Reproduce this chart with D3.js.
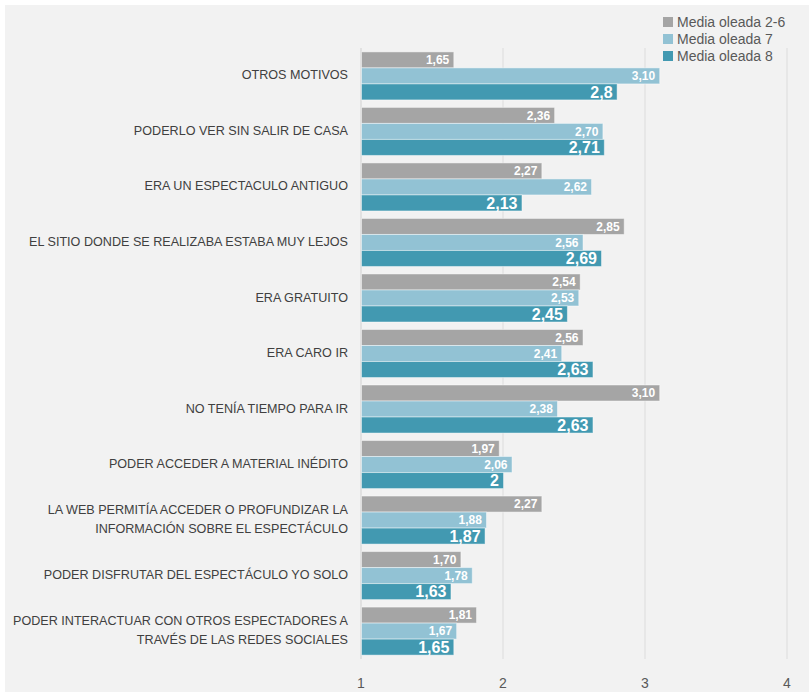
<!DOCTYPE html>
<html>
<head>
<meta charset="utf-8">
<script src="https://cdn.jsdelivr.net/npm/d3@7"></script>
<style>
  body { margin: 0; background: #fff; }
  svg { display: block; }
</style>
</head>
<body>
<svg id="chart"></svg>
<script>
// data
var categories = [
  ["OTROS MOTIVOS"],
  ["PODERLO VER SIN SALIR DE CASA"],
  ["ERA UN ESPECTACULO ANTIGUO"],
  ["EL SITIO DONDE SE REALIZABA ESTABA MUY LEJOS"],
  ["ERA GRATUITO"],
  ["ERA CARO IR"],
  ["NO TENÍA TIEMPO PARA IR"],
  ["PODER ACCEDER A MATERIAL INÉDITO"],
  ["LA WEB PERMITÍA ACCEDER O PROFUNDIZAR LA", "INFORMACIÓN SOBRE EL ESPECTÁCULO"],
  ["PODER DISFRUTAR DEL ESPECTÁCULO YO SOLO"],
  ["PODER INTERACTUAR CON OTROS ESPECTADORES A", "TRAVÉS DE LAS REDES SOCIALES"]
];
var seriesNames = ["Media oleada 2-6", "Media oleada 7", "Media oleada 8"];
var oleada26 = [1.65, 2.36, 2.27, 2.85, 2.54, 2.56, 3.10, 1.97, 2.27, 1.70, 1.81];
var oleada7  = [3.10, 2.70, 2.62, 2.56, 2.53, 2.41, 2.38, 2.06, 1.88, 1.78, 1.67];
var oleada8  = [2.8, 2.71, 2.13, 2.69, 2.45, 2.63, 2.63, 2, 1.87, 1.63, 1.65];
var xTicks = [1, 2, 3, 4];

var colors = ["#a5a5a5", "#92c2d4", "#4299b1"];
var series = [oleada26, oleada7, oleada8];

var W = 809, H = 692;
var svg = d3.select("#chart").attr("width", W).attr("height", H);

svg.append("rect")
  .attr("x", 5).attr("y", 5)
  .attr("width", W - 5).attr("height", H - 5)
  .attr("fill", "#f2f2f2");

var x = d3.scaleLinear().domain([1, 4]).range([361, 787]);
var y = d3.scaleBand()
  .domain(categories.map(function(d, i) { return i; }))
  .range([48, 659])
  .paddingInner(0.135)
  .paddingOuter(0.07);
var ySub = d3.scaleBand().domain([0, 1, 2]).range([0, y.bandwidth()]);

// gridlines
svg.append("g").selectAll("line")
  .data(xTicks)
  .enter().append("line")
  .attr("x1", function(d) { return x(d); })
  .attr("x2", function(d) { return x(d); })
  .attr("y1", 48).attr("y2", 659)
  .attr("stroke", function(d) { return d === 1 ? "#d0d0d0" : "#dcdcdc"; })
  .attr("stroke-width", 1);

// tick labels
svg.append("g").selectAll("text")
  .data(xTicks)
  .enter().append("text")
  .attr("x", function(d) { return x(d); })
  .attr("y", 688)
  .attr("text-anchor", "middle")
  .attr("font-family", "Liberation Sans, Arial, sans-serif")
  .attr("font-size", 14)
  .attr("fill", "#595959")
  .text(function(d) { return d; });

var fmt2 = function(v) { return v.toFixed(2).replace(".", ","); };
var fmtRaw = function(v) { return String(v).replace(".", ","); };

series.forEach(function(vals, s) {
  var g = svg.append("g");
  g.selectAll("rect")
    .data(vals)
    .enter().append("rect")
    .attr("x", x(1) + 0.5)
    .attr("y", function(d, i) { return y(i) + ySub(s); })
    .attr("width", function(d) { return x(d) - x(1); })
    .attr("height", ySub.bandwidth())
    .attr("fill", colors[s])
    .attr("stroke", "#ffffff")
    .attr("stroke-opacity", 0.45)
    .attr("stroke-width", 1);

  g.selectAll("text")
    .data(vals)
    .enter().append("text")
    .attr("x", function(d) { return x(d) - 4; })
    .attr("y", function(d, i) { return y(i) + ySub(s) + ySub.bandwidth() / 2; })
    .attr("dy", "0.36em")
    .attr("text-anchor", "end")
    .attr("font-family", "Liberation Sans, Arial, sans-serif")
    .attr("font-weight", "bold")
    .attr("font-size", s === 2 ? 16 : 12)
    .attr("fill", "#ffffff")
    .text(function(d) { return s === 2 ? fmtRaw(d) : fmt2(d); });
});

// category labels
var labels = svg.append("g").selectAll("text")
  .data(categories)
  .enter().append("text")
  .attr("text-anchor", "end")
  .attr("font-family", "Liberation Sans, Arial, sans-serif")
  .attr("font-size", 12.6)
  .attr("fill", "#404040")
  .attr("transform", function(d, i) {
    return "translate(348," + (y(i) + y.bandwidth() / 2 - 1) + ")";
  });

labels.each(function(lines) {
  var t = d3.select(this);
  lines.forEach(function(line, k) {
    t.append("tspan")
      .attr("x", 0)
      .attr("y", (k - (lines.length - 1) / 2) * 19)
      .attr("dy", "0.36em")
      .text(line);
  });
});

// legend
var legend = svg.append("g").selectAll("g")
  .data(seriesNames)
  .enter().append("g")
  .attr("transform", function(d, i) { return "translate(663," + (22 + i * 17) + ")"; });

legend.append("rect")
  .attr("x", 0).attr("y", -5)
  .attr("width", 10).attr("height", 10)
  .attr("fill", function(d, i) { return colors[i]; });

legend.append("text")
  .attr("x", 14)
  .attr("dy", "0.36em")
  .attr("font-family", "Liberation Sans, Arial, sans-serif")
  .attr("font-size", 14)
  .attr("fill", "#595959")
  .text(function(d) { return d; });
</script>
</body>
</html>
